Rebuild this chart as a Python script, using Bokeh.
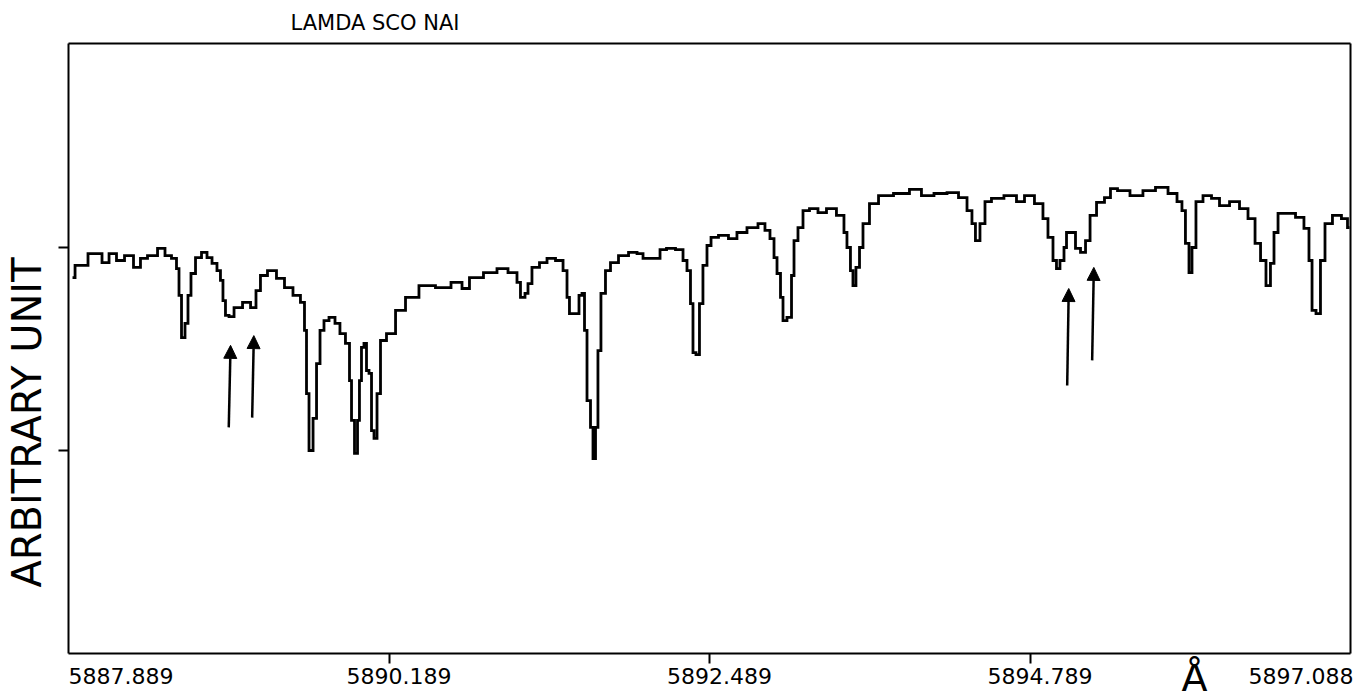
import math
from bokeh.plotting import figure
from bokeh.models import Arrow, NormalHead, FixedTicker, CustomJSTickFormatter, Range1d, LinearAxis
from bokeh.core.properties import value
from bokeh.embed import file_html
from bokeh.resources import INLINE

# Spectrum (wavelength in Angstrom, arbitrary intensity)
wavelength = [
    5887.918, 5887.954, 5888.104, 5888.155, 5888.205, 5888.262, 5888.320, 5888.391, 5888.420, 5888.492,
    5888.564, 5888.599, 5888.657, 5888.671, 5888.693, 5888.707, 5888.743, 5888.750, 5888.786, 5888.815,
    5888.872, 5888.894, 5888.944, 5888.965, 5888.994, 5889.001, 5889.030, 5889.052, 5889.102, 5889.174,
    5889.217, 5889.252, 5889.281, 5889.353, 5889.410, 5889.468, 5889.532, 5889.575, 5889.590, 5889.604,
    5889.626, 5889.662, 5889.676, 5889.712, 5889.733, 5889.784, 5889.819, 5889.855, 5889.898, 5889.913,
    5889.927, 5889.956, 5889.970, 5889.984, 5889.999, 5890.020, 5890.035, 5890.056, 5890.071, 5890.092,
    5890.114, 5890.142, 5890.200, 5890.272, 5890.343, 5890.465, 5890.580, 5890.688, 5890.738, 5890.795,
    5890.939, 5890.989, 5891.097, 5891.118, 5891.147, 5891.183, 5891.190, 5891.240, 5891.298, 5891.348,
    5891.420, 5891.456, 5891.477, 5891.491, 5891.542, 5891.563, 5891.585, 5891.599, 5891.621, 5891.649,
    5891.657, 5891.685, 5891.692, 5891.728, 5891.757, 5891.800, 5891.872, 5891.944, 5891.994, 5892.030,
    5892.116, 5892.152, 5892.209, 5892.281, 5892.317, 5892.338, 5892.367, 5892.374, 5892.410, 5892.424,
    5892.460, 5892.482, 5892.518, 5892.589, 5892.661, 5892.711, 5892.805, 5892.869, 5892.905, 5892.941,
    5892.963, 5892.984, 5893.013, 5893.020, 5893.070, 5893.085, 5893.106, 5893.142, 5893.178, 5893.235,
    5893.300, 5893.357, 5893.443, 5893.465, 5893.486, 5893.515, 5893.522, 5893.558, 5893.573, 5893.608,
    5893.666, 5893.738, 5893.881, 5893.967, 5894.053, 5894.147, 5894.240, 5894.312, 5894.362, 5894.383,
    5894.412, 5894.448, 5894.484, 5894.541, 5894.663, 5894.721, 5894.778, 5894.864, 5894.900, 5894.936,
    5894.972, 5894.986, 5895.022, 5895.044, 5895.058, 5895.101, 5895.130, 5895.173, 5895.202, 5895.238,
    5895.295, 5895.352, 5895.381, 5895.453, 5895.560, 5895.639, 5895.740, 5895.819, 5895.869, 5895.890,
    5895.919, 5895.941, 5895.962, 5895.998, 5896.063, 5896.120, 5896.178, 5896.264, 5896.321, 5896.386,
    5896.422, 5896.465, 5896.500, 5896.529, 5896.551, 5896.587, 5896.659, 5896.730, 5896.780, 5896.802,
    5896.824, 5896.859, 5896.888, 5896.924, 5896.995, 5897.053, 5897.082,
]
flux = [
    0.926, 0.956, 0.985, 0.963, 0.985, 0.968, 0.980, 0.951, 0.973, 0.980,
    0.998, 0.980, 0.973, 0.948, 0.882, 0.778, 0.813, 0.882, 0.936, 0.975,
    0.988, 0.975, 0.961, 0.943, 0.919, 0.869, 0.833, 0.830, 0.852, 0.865,
    0.852, 0.894, 0.931, 0.943, 0.924, 0.901, 0.882, 0.865, 0.796, 0.640,
    0.500, 0.579, 0.714, 0.796, 0.820, 0.828, 0.813, 0.788, 0.764, 0.672,
    0.574, 0.493, 0.574, 0.672, 0.754, 0.764, 0.697, 0.690, 0.549, 0.530,
    0.640, 0.771, 0.788, 0.845, 0.877, 0.906, 0.901, 0.914, 0.899, 0.926,
    0.938, 0.948, 0.938, 0.914, 0.877, 0.887, 0.911, 0.951, 0.963, 0.973,
    0.968, 0.943, 0.877, 0.837, 0.837, 0.882, 0.887, 0.796, 0.623, 0.557,
    0.480, 0.557, 0.746, 0.887, 0.943, 0.963, 0.980, 0.988, 0.985, 0.973,
    0.973, 0.995, 0.998, 0.995, 0.968, 0.943, 0.862, 0.741, 0.736, 0.862,
    0.956, 1.005, 1.025, 1.030, 1.022, 1.037, 1.049, 1.059, 1.042, 1.022,
    0.975, 0.936, 0.877, 0.820, 0.828, 0.931, 1.017, 1.049, 1.091, 1.096,
    1.086, 1.096, 1.079, 1.037, 1.000, 0.943, 0.906, 0.951, 1.000, 1.059,
    1.108, 1.128, 1.133, 1.143, 1.128, 1.133, 1.135, 1.123, 1.091, 1.059,
    1.017, 1.059, 1.113, 1.121, 1.128, 1.113, 1.128, 1.108, 1.071, 1.025,
    0.968, 0.948, 0.968, 1.000, 1.037, 1.037, 0.998, 0.988, 1.017, 1.079,
    1.111, 1.123, 1.145, 1.140, 1.128, 1.140, 1.148, 1.133, 1.113, 1.091,
    1.010, 0.938, 1.000, 1.113, 1.128, 1.121, 1.103, 1.113, 1.096, 1.071,
    1.010, 0.968, 0.906, 0.961, 1.037, 1.084, 1.084, 1.074, 1.047, 0.968,
    0.845, 0.837, 0.968, 1.059, 1.079, 1.071, 1.049,
]

x_ticks = [5887.889, 5890.189, 5892.489, 5894.789, 5897.089]
x_tick_labels = ["5887.889", "5890.189", "5892.489", "5894.789", "5897.088"]
y_ticks = [0.5, 1.0]

# Arrows marking interstellar components
arrow_x_start = [5889.039, 5889.207, 5895.056, 5895.235]
arrow_x_end = [5889.052, 5889.219, 5895.067, 5895.247]
arrow_y_start = [0.557, 0.581, 0.660, 0.722]
arrow_y_end = [0.759, 0.783, 0.899, 0.951]

title_text = "LAMDA SCO NAI"
y_label_text = "ARBITRARY UNIT"
unit_text = "Å"

X0, X1 = 5887.889, 5897.089      # wavelength span of the box
Y0, Y1 = 0.0, 1.5025             # intensity span of the box

# Page geometry (px): the drawing area covers the whole canvas, the box sits inside it
W, H = 1364, 698
BL, BR, BT, BB = 68, 1350, 43, 653
sx = (BR - BL) / (X1 - X0)        # px per Angstrom
sy = (BB - BT) / (Y1 - Y0)        # px per intensity unit

def dx(px):
    return X0 + (px - BL) / sx

def dy(py):
    return Y0 + (BB - py) / sy

p = figure(width=W, height=H, output_backend="svg", toolbar_location=None,
           x_range=Range1d(dx(0), dx(W)), y_range=Range1d(dy(H), dy(0)),
           min_border=0, min_border_left=0, min_border_right=0, min_border_top=0, min_border_bottom=0,
           x_axis_location=None, y_axis_location=None,
           background_fill_color="white", border_fill_color="white")
p.xgrid.visible = False
p.ygrid.visible = False
p.outline_line_color = None

def style_axis(ax, ticks):
    ax.ticker = FixedTicker(ticks=ticks)
    ax.formatter = CustomJSTickFormatter(code="return ''")
    ax.axis_line_color = "black"
    ax.axis_line_width = 2
    ax.major_tick_line_color = "black"
    ax.major_tick_line_width = 2
    ax.major_tick_in = 0
    ax.major_tick_out = 10
    ax.minor_tick_in = 0
    ax.minor_tick_out = 0
    ax.major_label_standoff = 0
    ax.major_label_text_font_size = "1px"
    return ax

# the end ticks coincide with the box corners, so only the inner ones are drawn as marks
bottom = style_axis(LinearAxis(fixed_location=Y0, bounds=(X0, X1)), x_ticks[1:-1])
left = style_axis(LinearAxis(fixed_location=X0, bounds=(Y0, Y1)), y_ticks)
top = style_axis(LinearAxis(fixed_location=Y1, bounds=(X0, X1)), [])
right = style_axis(LinearAxis(fixed_location=X1, bounds=(Y0, Y1)), [])
p.add_layout(bottom, "below")
p.add_layout(left, "left")
p.add_layout(top, "above")
p.add_layout(right, "right")

# Spectrum, drawn as a staircase like the original plotter trace
p.step(wavelength, flux, mode="center", line_color="black", line_width=2.8, line_join="miter")

# Arrows
for xs, xe, ys, ye in zip(arrow_x_start, arrow_x_end, arrow_y_start, arrow_y_end):
    p.add_layout(Arrow(end=NormalHead(size=13, fill_color="black", line_color="black", line_width=1),
                       x_start=xs, y_start=ys, x_end=xe, y_end=ye,
                       line_color="black", line_width=2.5))

FONT = value("DejaVu Sans")

# Tick labels (first left-aligned, last right-aligned, others centred just right of the tick)
lab_y = dy(675)
p.text(x=[x_ticks[0]], y=[lab_y], text=[x_tick_labels[0]], text_align="left",
       text_baseline="middle", text_font=FONT, text_font_size="22px", text_color="black")
p.text(x=[t + 10 / sx for t in x_ticks[1:-1]], y=[lab_y] * 3, text=x_tick_labels[1:-1],
       text_align="center", text_baseline="middle", text_font=FONT, text_font_size="22px",
       text_color="black")
p.text(x=[x_ticks[-1] + 3 / sx], y=[lab_y], text=[x_tick_labels[-1]], text_align="right",
       text_baseline="middle", text_font=FONT, text_font_size="22px", text_color="black")

# Title
p.text(x=[dx(290)], y=[dy(22)], text=[title_text], text_align="left", text_baseline="middle",
       text_font=FONT, text_font_size="21px", text_color="black")

# Vertical axis caption
p.text(x=[dx(26)], y=[dy(422)], text=[y_label_text], angle=math.pi / 2, text_align="center",
       text_baseline="middle", text_font=FONT, text_font_size="40px", text_color="black")

# Angstrom unit
p.text(x=[dx(1194)], y=[dy(677)], text=[unit_text], text_align="center", text_baseline="middle",
       text_font=FONT, text_font_size="38px", text_color="black")

open("out.html", "w").write(file_html(p, INLINE))
